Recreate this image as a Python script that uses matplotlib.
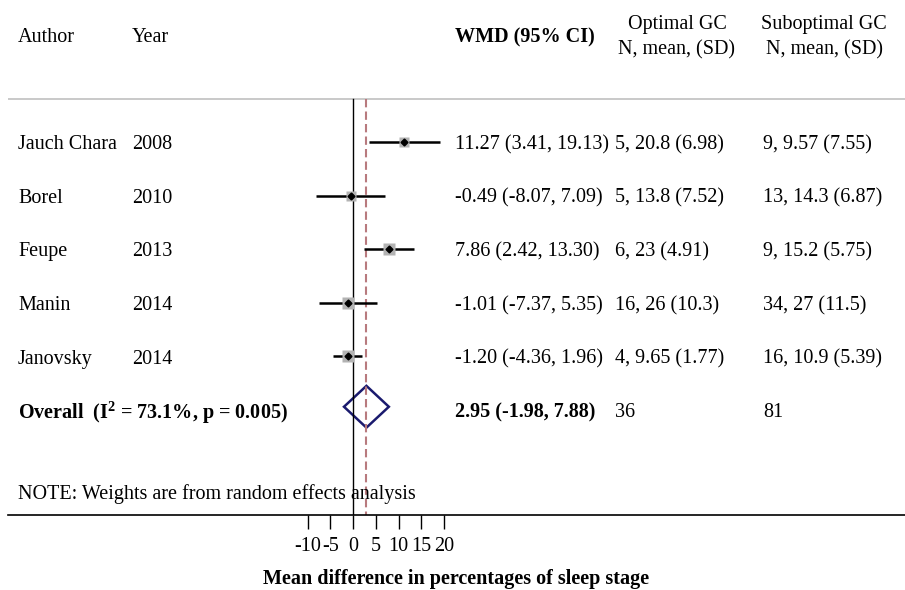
import numpy as np
import matplotlib.pyplot as plt
from matplotlib.patches import Polygon

plt.rcParams['font.family'] = ['Liberation Serif', 'DejaVu Serif']
plt.rcParams['mathtext.fontset'] = 'custom'
plt.rcParams['mathtext.rm'] = 'Liberation Serif'
plt.rcParams['mathtext.bf'] = 'Liberation Serif:bold'

authors = ['Jauch Chara', 'Borel', 'Feupe', 'Manin', 'Janovsky']
years = [2008, 2010, 2013, 2014, 2014]
wmd = [11.27, -0.49, 7.86, -1.01, -1.20]
lo = [3.41, -8.07, 2.42, -7.37, -4.36]
hi = [19.13, 7.09, 13.30, 5.35, 1.96]
opt_n = [5, 5, 6, 16, 4]
opt_mean = [20.8, 13.8, 23, 26, 9.65]
opt_sd = [6.98, 7.52, 4.91, 10.3, 1.77]
sub_n = [9, 13, 9, 34, 16]
sub_mean = [9.57, 14.3, 15.2, 27, 10.9]
sub_sd = [7.55, 6.87, 5.75, 11.5, 5.39]
box_size = [7.5, 7.0, 8.0, 8.0, 8.0]

overall = 2.95
overall_lo = -1.98
overall_hi = 7.88
i2 = 73.1
p_het = 0.005

ticks = [-10, -5, 0, 5, 10, 15, 20]

fs = 14.5
W, H = 905, 590
scale = 4.55      # px per unit
x0px = 353        # pixel where effect = 0
dy = 0.05         # nudge text down a touch

fig = plt.figure(figsize=(W / 100, H / 100), dpi=100)
ax = fig.add_axes([8 / W, (H - 515) / H, (W - 8) / W, 515 / H])
ax.set_xlim((8 - x0px) / scale, (W - x0px) / scale)
ax.set_ylim(6.96, -2.65)

def px(x):
    return (x - x0px) / scale

n = len(authors)
rows = np.arange(n)

# header
ax.text(px(18), -2.0 + dy, 'Author', fontsize=fs, va='center')
ax.text(px(132), -2.0 + dy, 'Year', fontsize=fs, va='center')
ax.text(px(455), -2.0 + dy, 'WMD (95% CI)', fontsize=fs, va='center', fontweight='bold')
ax.text(px(677), -2.0 + dy, 'Optimal GC\nN, mean, (SD)', fontsize=fs, va='center', ha='center',
        linespacing=1.45)
ax.text(px(824), -2.0 + dy, 'Suboptimal GC\nN, mean, (SD)', fontsize=fs, va='center', ha='center',
        linespacing=1.45)
ax.axhline(-0.8, color='#c0c0c0', lw=1.2)

# reference lines
ax.plot([0, 0], [-0.8, 6.96], color='black', lw=1)
ax.plot([overall, overall], [-0.8, 6.96], color='#b87a7e', lw=1.5, ls=(0, (4, 2)))

# studies
for i in rows:
    ax.plot([lo[i], hi[i]], [i, i], color='black', lw=1.8, solid_capstyle='butt')
    ax.plot(wmd[i], i, marker='s', ms=box_size[i], color='#b3b3b3', mec='none')
    ax.plot(wmd[i], i, marker='D', ms=3.5, color='black')
    ax.text(px(18), i + dy, authors[i], fontsize=fs, va='center')
    ax.text(px(132), i + dy, str(years[i]), fontsize=fs, va='center')
    ax.text(px(455), i + dy, f'{wmd[i]:.2f} ({lo[i]:.2f}, {hi[i]:.2f})', fontsize=fs, va='center')
    ax.text(px(615), i + dy, f'{opt_n[i]}, {opt_mean[i]:.3g} ({opt_sd[i]:.3g})', fontsize=fs, va='center')
    ax.text(px(763), i + dy, f'{sub_n[i]}, {sub_mean[i]:.3g} ({sub_sd[i]:.3g})', fontsize=fs, va='center')

# overall diamond
yo = n - 0.06
dh = 0.39
ax.add_patch(Polygon([[overall_lo, yo], [overall, yo - dh], [overall_hi, yo], [overall, yo + dh]],
                     closed=True, fill=False, edgecolor='#1a1a6e', lw=1.8))
ax.text(px(18), n + dy, r'Overall  (I$^{\mathbf{2}}$ = ' + f'{i2:.1f}%, p = {p_het:.3f})',
        fontsize=fs, va='center', fontweight='bold')
ax.text(px(455), n + dy, f'{overall:.2f} ({overall_lo:.2f}, {overall_hi:.2f})', fontsize=fs,
        va='center', fontweight='bold')
ax.text(px(615), n + dy, str(sum(opt_n)), fontsize=fs, va='center')
ax.text(px(763), n + dy, str(sum(sub_n)), fontsize=fs, va='center')

ax.text(px(18), 6.51 + dy, 'NOTE: Weights are from random effects analysis', fontsize=fs, va='center')

# axis
for s in ['top', 'right', 'left']:
    ax.spines[s].set_visible(False)
ax.spines['bottom'].set_linewidth(1.2)
ax.set_yticks([])
ax.set_xticks(ticks)
ax.set_xticklabels([str(t) for t in ticks], fontsize=fs)
ax.tick_params(axis='x', length=10, width=1, pad=6)
ax.set_xlabel('Mean difference in percentages of sleep stage', fontsize=fs,
              fontweight='bold', labelpad=9)

fig.savefig('out.png', dpi=100)
